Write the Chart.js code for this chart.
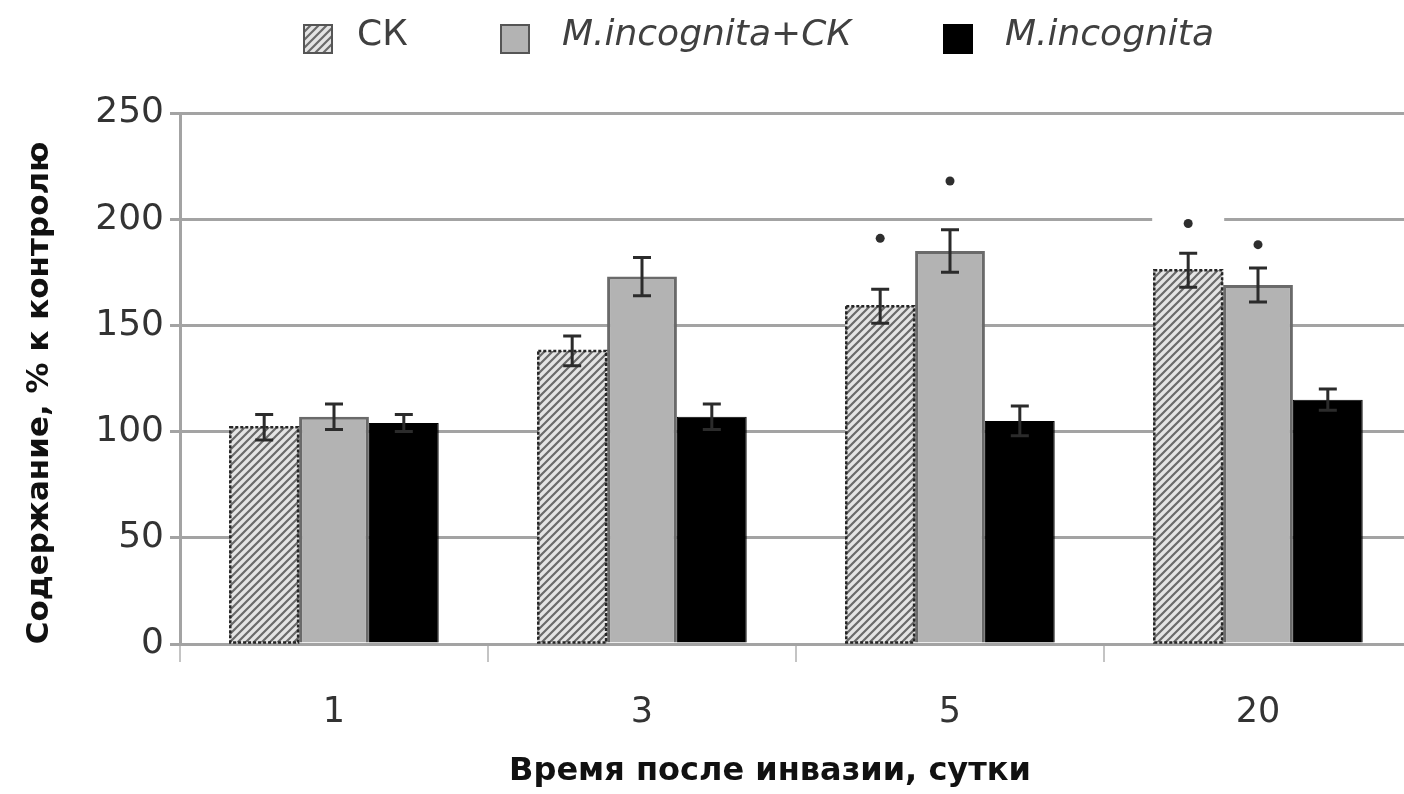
<!DOCTYPE html>
<html>
<head>
<meta charset="utf-8">
<script src="https://cdn.jsdelivr.net/npm/chart.js@4/dist/chart.umd.min.js"></script>
<style>
  html, body { margin: 0; padding: 0; background: #fff; overflow: hidden; }
  #wrap { width: 1404px; height: 794px; overflow: hidden; }
  #chart { display: block; }
</style>
</head>
<body>
<div id="wrap"><canvas id="chart" width="1412" height="794"></canvas></div>
<script>
// Days after invasion
const categories = ['1', '3', '5', '20'];
const seriesNames = ['СК', 'M.incognita+СК', 'M.incognita'];

// Content, % of control (mean and error)
const ckValues  = [102, 138, 159, 176];
const ckErrors  = [6, 7, 8, 8];
const mixValues = [107, 173, 185, 169];
const mixErrors = [6, 9, 10, 8];
const mValues   = [104, 107, 105, 115];
const mErrors   = [4, 6, 7, 5];

// Significance marks (height of the "*" in axis units, null = none)
const ckMarks  = [null, null, 191, 198];
const mixMarks = [null, null, 218, 188];
const mMarks   = [null, null, null, null];

const yTicks = [0, 50, 100, 150, 200, 250];
const xTitle = 'Время после инвазии, сутки';
const yTitle = 'Содержание, % к контролю';

const errorSets = [ckErrors, mixErrors, mErrors];
const markSets = [ckMarks, mixMarks, mMarks];

// Diagonal hatch fill for the СК series
function makeHatch() {
  const c = document.createElement('canvas');
  c.width = 8; c.height = 8;
  const g = c.getContext('2d');
  g.fillStyle = '#e4e4e4';
  g.fillRect(0, 0, 8, 8);
  g.strokeStyle = '#6a6a6a';
  g.lineWidth = 2.2;
  g.beginPath();
  g.moveTo(-2, 10); g.lineTo(10, -2);
  g.moveTo(-2, 2); g.lineTo(2, -2);
  g.moveTo(6, 10); g.lineTo(10, 6);
  g.stroke();
  return g.createPattern(c, 'repeat');
}
const hatch = makeHatch();

const FONT = "'DejaVu Sans', 'Open Sans', sans-serif";

// Error bars, significance marks, legend row and axis titles
const overlayPlugin = {
  id: 'overlay',
  afterDatasetsDraw(chart) {
    const ctx = chart.ctx;
    const y = chart.scales.y;
    ctx.save();
    // dashed outline for the hatched bars
    chart.getDatasetMeta(0).data.forEach(bar => {
      const left = bar.x - bar.width / 2;
      ctx.setLineDash([3, 2]);
      ctx.strokeStyle = '#262626';
      ctx.lineWidth = 2.5;
      ctx.strokeRect(left + 1, bar.y, bar.width - 2, bar.base - bar.y);
    });
    ctx.setLineDash([]);
    chart.data.datasets.forEach((ds, di) => {
      const meta = chart.getDatasetMeta(di);
      const errs = errorSets[di];
      const marks = markSets[di];
      meta.data.forEach((bar, i) => {
        const v = ds.data[i];
        const e = errs[i];
        const yTop = y.getPixelForValue(v + e);
        const yBot = y.getPixelForValue(v - e);
        const cap = 9;
        ctx.strokeStyle = '#2b2b2b';
        ctx.lineWidth = 3;
        ctx.beginPath();
        ctx.moveTo(bar.x, yTop); ctx.lineTo(bar.x, yBot);
        ctx.moveTo(bar.x - cap, yTop); ctx.lineTo(bar.x + cap, yTop);
        ctx.moveTo(bar.x - cap, yBot); ctx.lineTo(bar.x + cap, yBot);
        ctx.stroke();
        const m = marks[i];
        if (m !== null) {
          const ym = y.getPixelForValue(m);
          ctx.fillStyle = '#ffffff';
          ctx.fillRect(bar.x - 36, ym - 10, 72, 20);
          ctx.fillStyle = '#2e2e2e';
          ctx.beginPath();
          ctx.arc(bar.x, ym, 4.5, 0, Math.PI * 2);
          ctx.fill();
        }
      });
    });
    ctx.restore();
  },
  afterDraw(chart) {
    const ctx = chart.ctx;
    const area = chart.chartArea;
    ctx.save();
    // legend row
    const starts = [303, 500, 943];
    chart.data.datasets.forEach((ds, i) => {
      const x = starts[i];
      ctx.fillStyle = ds.backgroundColor;
      ctx.fillRect(x, 24, 30, 30);
      ctx.strokeStyle = i === 2 ? '#000' : '#555';
      ctx.lineWidth = 2;
      ctx.strokeRect(x + 1, 25, 28, 28);
      ctx.fillStyle = '#404040';
      ctx.font = (i === 0 ? '' : 'italic ') + '36px ' + FONT;
      ctx.textBaseline = 'middle';
      ctx.textAlign = 'left';
      ctx.fillText(ds.label, x + (i === 0 ? 54 : 62), 36);
    });
    // axis titles
    ctx.fillStyle = '#111';
    ctx.textAlign = 'center';
    ctx.textBaseline = 'middle';
    ctx.font = 'bold 32px ' + FONT;
    ctx.fillText(xTitle, 770, 772);
    ctx.translate(40, 393);
    ctx.rotate(-Math.PI / 2);
    ctx.font = 'bold 31px ' + FONT;
    ctx.fillText(yTitle, 0, 0);
    ctx.restore();
  }
};

new Chart(document.getElementById('chart'), {
  type: 'bar',
  data: {
    labels: categories,
    datasets: [
      { label: seriesNames[0], data: ckValues, backgroundColor: hatch, borderWidth: 0 },
      { label: seriesNames[1], data: mixValues, backgroundColor: '#b3b3b3', borderColor: '#6a6a6a', borderWidth: 3 },
      { label: seriesNames[2], data: mValues, backgroundColor: '#000000', borderColor: '#000000', borderWidth: 1 }
    ]
  },
  options: {
    responsive: false,
    animation: false,
    events: [],
    layout: { padding: { top: 113, right: 0, left: 0, bottom: 0 } },
    datasets: { bar: { categoryPercentage: 0.68, barPercentage: 1.0 } },
    plugins: { legend: { display: false }, tooltip: { enabled: false } },
    scales: {
      x: {
        afterFit(scale) { scale.height = 150; },
        grid: { drawOnChartArea: false, drawTicks: true, tickLength: 18, color: '#c4c4c4', lineWidth: 2 },
        border: { display: true, color: '#a3a3a3', width: 3 },
        ticks: { color: '#333', padding: 30, font: { family: FONT, size: 35 } },
        title: { display: false }
      },
      y: {
        min: 0,
        max: 250,
        afterFit(scale) { scale.width = 180; },
        afterBuildTicks(scale) { scale.ticks = yTicks.map(v => ({ value: v })); },
        grid: { color: '#a3a3a3', lineWidth: 3, drawTicks: true, tickLength: 10, tickColor: '#a3a3a3' },
        border: { display: true, color: '#a3a3a3', width: 3 },
        ticks: { color: '#333', padding: 6, font: { family: FONT, size: 36 } },
        title: { display: false }
      }
    }
  },
  plugins: [overlayPlugin]
});
</script>
</body>
</html>
